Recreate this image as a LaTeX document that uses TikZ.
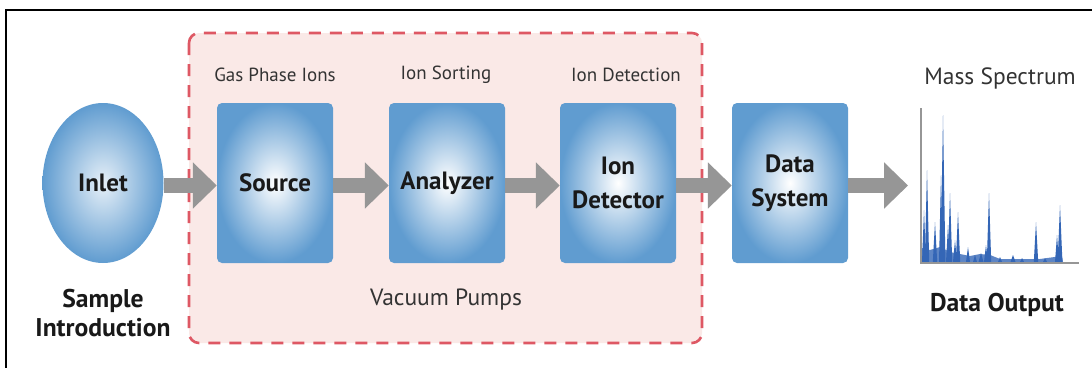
\documentclass[tikz,border=0pt]{standalone}
\usepackage{fontspec}
\setmainfont{PT Sans}
\usetikzlibrary{shapes.geometric,arrows.meta}
\definecolor{boxblue}{RGB}{96,156,208}
\definecolor{pinkfill}{RGB}{250,233,231}
\definecolor{dashred}{RGB}{222,88,100}
\definecolor{arrgray}{RGB}{150,150,150}
\definecolor{specblue}{RGB}{52,102,182}
\tikzset{
  stagebox/.style={rectangle, rounded corners=5pt, minimum width=116pt, minimum height=160pt,
    shading=radial, inner color=white, outer color=boxblue, align=center,
    font=\fontsize{25}{34}\selectfont\bfseries, text=black!90},
  inletshape/.style={ellipse, minimum width=121pt, minimum height=160pt, inner sep=0pt,
    shading=radial, inner color=white!85!boxblue, outer color=boxblue,
    font=\fontsize{25}{30}\selectfont\bfseries, text=black!90},
  toplabel/.style={font=\fontsize{19}{21}\selectfont, text=black!80},
  midlabel/.style={font=\fontsize{23.5}{26}\selectfont, text=black!80},
  biglabel/.style={font=\fontsize{25.6}{29}\selectfont\bfseries, text=black!90, align=center},
  flowarrow/.style={draw=arrgray, line width=15pt, -{Triangle[length=24pt, width=45pt]}}
}
\begin{document}
\begin{tikzpicture}[x=1pt, y=-1pt]
\useasboundingbox (0,0) rectangle (1092,367);
\fill[white] (0,0) rectangle (1092,367);
% outer frame (top and left)
\draw[line width=2.5pt, line cap=rect] (1092,10) -- (6,10) -- (6,367);
% vacuum region
\draw[fill=pinkfill, draw=dashred, line width=2.6pt, dash pattern=on 12pt off 9pt, rounded corners=10pt]
  (189,33) rectangle (702,343);
% nodes
\node[inletshape] (inlet) at (103,183) {Inlet};
\node[stagebox] (source) at (275,183) {Source};
\node[stagebox] (analyzer) at (447,183) {Analyzer};
\node[stagebox] (detector) at (618,183) {Ion\\Detector};
\node[stagebox] (datasys) at (790,183) {Data\\System};
% labels
\node[toplabel] (l1) at (275,75) {Gas Phase Ions};
\node[toplabel] (l2) at (446,75) {Ion Sorting};
\node[toplabel] (l3) at (626,75) {Ion Detection};
\node[midlabel] (l4) at (1000,78) {Mass Spectrum};
\node[midlabel] (vac) at (446,300) {Vacuum Pumps};
\node[biglabel] (sample) at (103,313) {Sample\\Introduction};
\node[biglabel] (dout) at (997,305) {Data Output};
% arrows
\coordinate (specin) at (908,185.5);
\draw[flowarrow] (inlet.east |- 0,185.5) -- (source.west |- 0,185.5);
\draw[flowarrow] (source.east |- 0,185.5) -- (analyzer.west |- 0,185.5);
\draw[flowarrow] (analyzer.east |- 0,185.5) -- (detector.west |- 0,185.5);
\draw[flowarrow] (detector.east |- 0,185.5) -- (datasys.west |- 0,185.5);
\draw[flowarrow] (datasys.east |- 0,185.5) -- (specin);
% spectrum
\fill[specblue!80] (922,262) -- (922,248) -- (930,250) -- (940,247) -- (950,252) -- (960,254) -- (970,256)
  -- (980,254) -- (990,255) -- (1000,259) -- (1040,259) -- (1062,256) -- (1063,262) -- cycle;
\foreach \px/\py/\pw in {924/210/2, 927/170/2.2, 935/222/2.2, 941/175/2, 943/115/2.4, 948/225/2,
  950/193/2.2, 958/212/2.2, 955/240/2, 968/247/2, 975/255/2, 981/253/2.5, 986/245/2, 989/193/2.2,
  1000/257/2, 1013/255/2.5, 1022/258/2, 1036/222/2.2, 1045/258/2, 1057/235/2, 1060/205/2.4}
  \fill[specblue] (\px-\pw,262) -- (\px,\py) -- (\px+\pw,262) -- cycle;
\draw[arrgray, line width=1.6pt] (921,108) -- (921,263) -- (1079,263);
\end{tikzpicture}
\end{document}
